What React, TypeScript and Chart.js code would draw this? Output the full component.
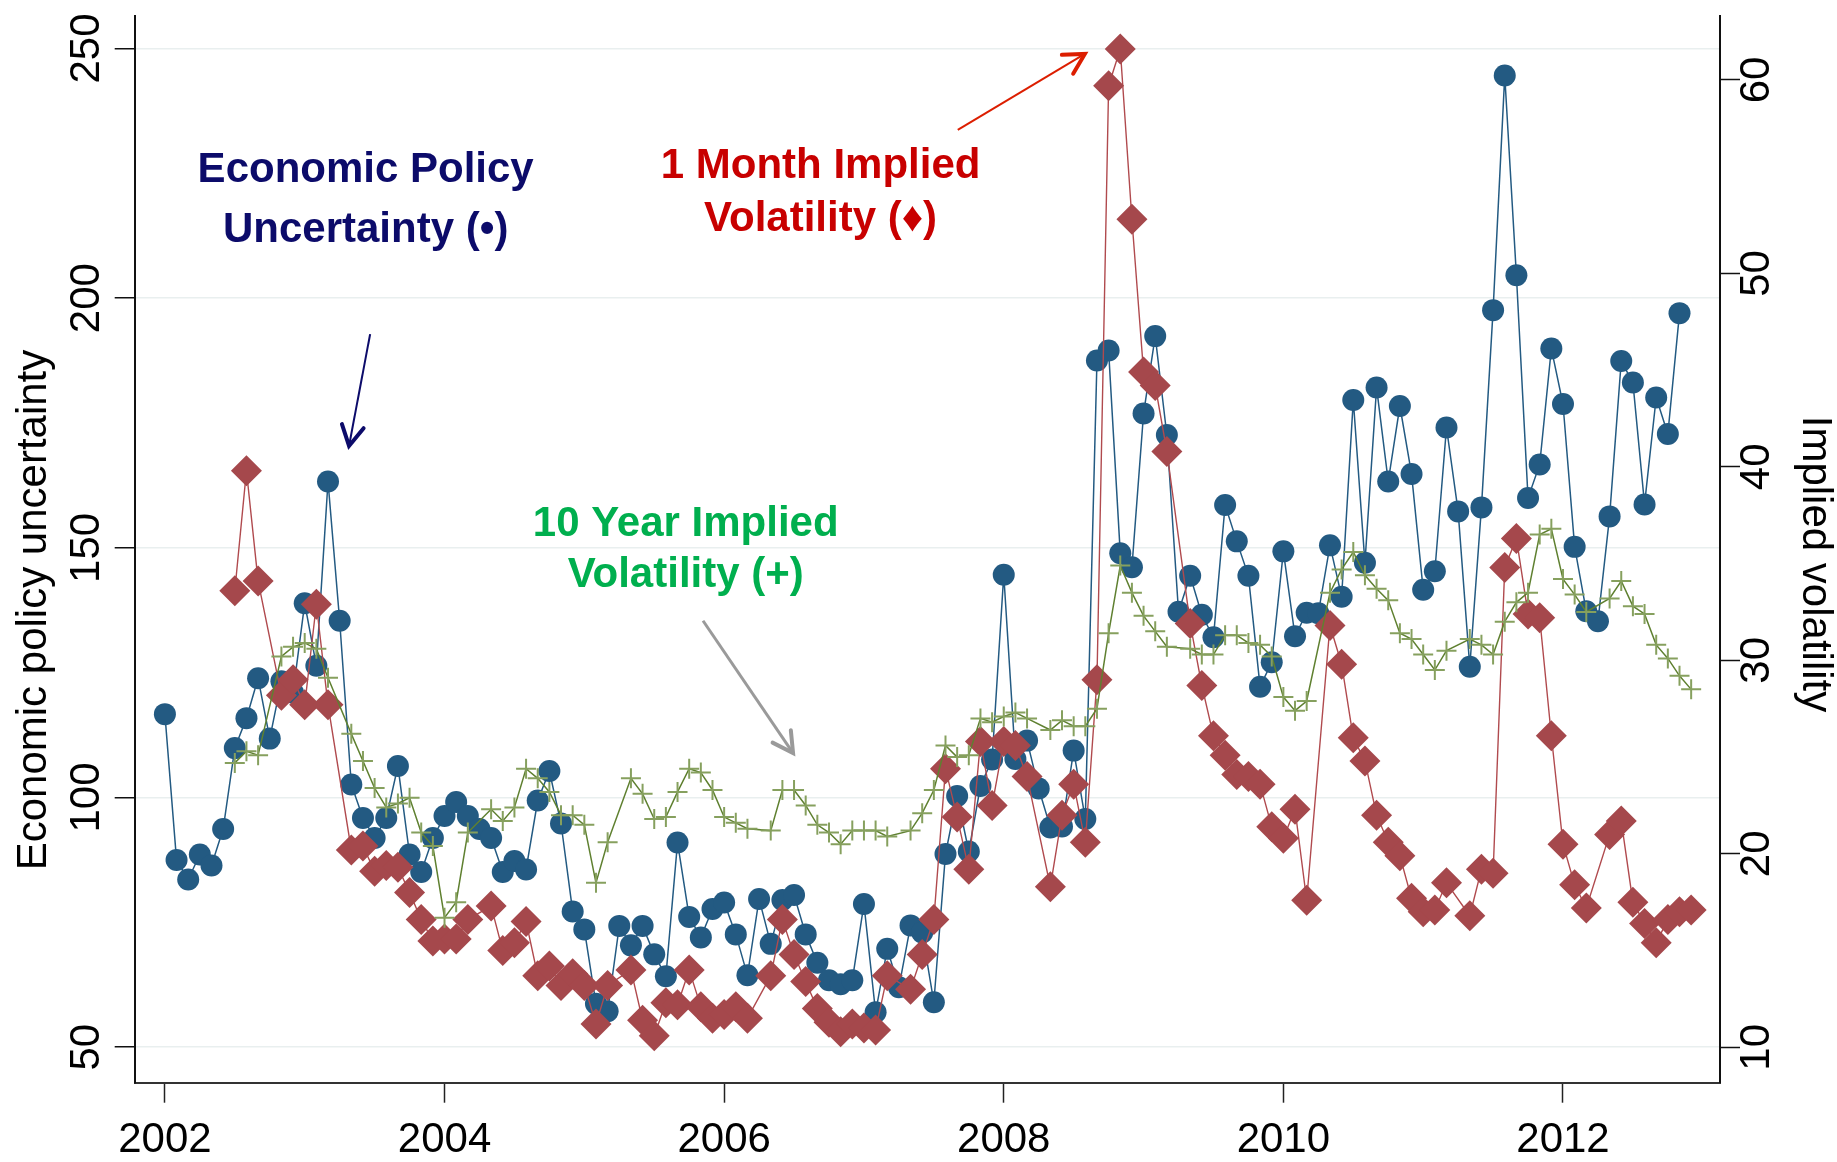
import React, { useEffect, useRef } from "react";
import { Chart, registerables } from "chart.js";

Chart.register(...registerables);

const W = 1837;
const H = 1162;
const FONT = '"Liberation Sans", Arial, Helvetica, sans-serif';

// ---- tick labels ----
const yearTicks = [2002, 2004, 2006, 2008, 2010, 2012];
const epuTicks = [50, 100, 150, 200, 250];
const volTicks = [10, 20, 30, 40, 50, 60];

// ---- Economic policy uncertainty index, monthly from Jan 2002 ----
const epuStartYear = 2002;
const epuStartMonth = 0;
const epu = [
  // 2002
  116.7, 87.5, 83.6, 88.6, 86.4, 93.7, 109.9, 115.9, 123.9, 111.8, 123.3, 121.0,
  // 2003
  138.9, 126.4, 163.3, 135.4, 102.6, 95.9, 91.9, 95.9, 106.3, 88.6, 85.1, 91.9,
  // 2004
  96.3, 99.1, 96.3, 93.7, 91.9, 85.1, 87.3, 85.6, 99.4, 105.3, 94.8, 77.2,
  // 2005
  73.6, 58.7, 57.2, 74.3, 70.4, 74.3, 68.6, 64.2, 91.0, 76.1, 72.0, 77.7,
  // 2006
  79.0, 72.6, 64.4, 79.7, 70.7, 79.5, 80.5, 72.6, 66.9, 63.4, 62.6, 63.4,
  // 2007
  78.7, 57.0, 69.7, 62.0, 74.4, 73.0, 59.0, 88.7, 100.3, 89.2, 102.3, 107.6,
  // 2008
  144.6, 107.7, 111.4, 101.8, 94.0, 94.2, 109.4, 95.7, 187.5, 189.5, 148.9, 146.1,
  // 2009
  176.9, 192.4, 172.6, 137.2, 144.4, 136.6, 132.1, 158.6, 151.3, 144.4, 122.2, 127.1,
  // 2010
  149.3, 132.3, 137.0, 136.9, 150.5, 140.2, 179.6, 147.0, 182.1, 163.3, 178.4, 164.8,
  // 2011
  141.6, 145.3, 174.1, 157.3, 126.2, 158.1, 197.6, 244.6, 204.6, 160.0, 166.7, 189.9,
  // 2012 (Jan-Nov)
  178.8, 150.2, 137.3, 135.3, 156.3, 187.4, 183.1, 158.7, 180.1, 172.8, 197.0,
];

// ---- implied volatility series, monthly from Jul 2002 (null = no observation) ----
const volStartYear = 2002;
const volStartMonth = 6;
const vol1m = [
  // 2002 Jul-Dec
  33.6, 39.8, 34.1, null, 28.2, 29.0,
  // 2003
  27.7, 32.9, 27.7, null, 20.2, 20.4, 19.1, 19.4, 19.3, 18.0, 16.6, 15.5,
  // 2004
  15.6, 15.6, 16.6, null, 17.3, 15.0, 15.4, 16.5, 13.7, 14.2, 13.2, 13.8,
  // 2005
  13.2, 11.2, 13.2, null, 14.0, 11.4, 10.6, 12.3, 12.2, 14.0, 12.1, 11.5,
  // 2006
  11.7, 12.1, 11.5, null, 13.7, 16.6, 14.8, 13.4, 12.0, 11.3, 10.8, 11.2,
  // 2007
  11.0, 10.9, 13.7, null, 13.0, 14.8, 16.6, 24.4, 21.9, 19.2, 25.8, 22.5,
  // 2008
  25.8, 25.6, 24.0, null, 18.3, 22.0, 23.6, 20.6, 29.0, 59.7, 61.6, 52.8,
  // 2009
  44.9, 44.2, 40.8, null, 31.9, 28.7, 26.1, 25.1, 24.1, 24.0, 23.6, 21.4,
  // 2010
  20.8, 22.3, 17.6, null, 31.8, 29.8, 26.0, 24.8, 22.0, 20.6, 19.9, 17.7,
  // 2011
  17.0, 17.1, 18.5, null, 16.8, 19.2, 19.0, 34.8, 36.3, 32.4, 32.2, 26.1,
  // 2012
  20.5, 18.4, 17.2, null, 21.0, 21.7, 17.5, 16.4, 15.4, 16.6, 17.0, 17.1,
];
const vol10y = [
  // 2002 Jul-Dec
  24.7, 25.3, 25.1, null, 30.2, 30.7,
  // 2003
  30.9, 30.6, 29.1, null, 26.2, 24.8, 23.4, 22.4, 22.6, 22.9, 21.1, 20.4,
  // 2004
  16.7, 17.5, 21.1, null, 22.3, 21.7, 22.4, 24.4, 23.9, 23.2, 22.0, 22.0,
  // 2005
  21.5, 18.5, 20.6, null, 23.9, 23.1, 21.8, 21.9, 23.2, 24.4, 24.2, 23.3,
  // 2006
  21.9, 21.6, 21.3, null, 21.2, 23.3, 23.3, 22.5, 21.5, 21.1, 20.5, 21.2,
  // 2007
  21.2, 21.2, 20.9, null, 21.2, 22.1, 23.3, 25.6, 25.0, 25.1, 27.0, 26.8,
  // 2008
  27.1, 27.3, 27.0, null, 26.4, 26.9, 26.6, 26.6, 27.5, 31.4, 34.9, 33.5,
  // 2009
  32.3, 31.5, 30.7, null, 30.6, 30.3, 30.3, 31.3, 31.3, 30.9, 30.8, 30.2,
  // 2010
  28.1, 27.4, 27.9, null, 33.5, 34.7, 35.6, 34.4, 33.7, 33.1, 31.4, 31.1,
  // 2011
  30.3, 29.5, 30.5, null, 31.1, 30.8, 30.3, 32.0, 33.0, 33.5, 36.5, 36.8,
  // 2012
  34.2, 33.4, 32.5, null, 33.2, 34.1, 32.8, 32.4, 30.8, 30.1, 29.2, 28.5,
];

// ---- text ----
const leftTitle = "Economic policy uncertainty";
const rightTitle = "Implied volatility";
const epuLabel = ["Economic Policy", "Uncertainty (\u2022)"];
const vol1mLabel = ["1 Month Implied", "Volatility (\u2666)"];
const vol10yLabel = ["10 Year Implied", "Volatility (+)"];

// annotation placement (data coordinates: year, EPU scale)
const notes = [
  { lines: epuLabel, color: "#0c0b6a", x: 2003.436, y: [223.2, 211.3] },
  { lines: vol1mLabel, color: "#c80000", x: 2006.69, y: [224.0, 213.5] },
  { lines: vol10yLabel, color: "#00af4e", x: 2005.725, y: [152.3, 142.1] },
];
const arrows = [
  { from: [2003.468, 192.8], to: [2003.317, 170.4], color: "#0c0b6a", width: 2, headWidth: 4 },
  { from: [2007.671, 233.7], to: [2008.58, 248.9], color: "#dc1e00", width: 2, headWidth: 4 },
  { from: [2005.849, 135.4], to: [2006.493, 108.9], color: "#9a9a9a", width: 3, headWidth: 4 },
];

function toPoints(startYear: number, startMonth: number, vals: (number | null)[]) {
  return vals.map((v, i) => ({ x: startYear + (startMonth + i) / 12, y: v }));
}

const annotationPlugin = {
  id: "epuAnnotations",
  afterDraw(chart: any) {
    const { ctx, scales } = chart;
    const px = (v: number) => scales.x.getPixelForValue(v);
    const py = (v: number) => scales.y.getPixelForValue(v);
    ctx.save();
    // axis titles
    ctx.fillStyle = "#000";
    ctx.font = `42px ${FONT}`;
    ctx.textAlign = "center";
    ctx.textBaseline = "alphabetic";
    ctx.save();
    ctx.translate(46, 610);
    ctx.rotate(-Math.PI / 2);
    ctx.fillText(leftTitle, 0, 0);
    ctx.restore();
    ctx.save();
    ctx.translate(1803, 564);
    ctx.rotate(Math.PI / 2);
    ctx.fillText(rightTitle, 0, 0);
    ctx.restore();

    // labels
    ctx.font = `bold 42px ${FONT}`;
    for (const n of notes) {
      ctx.fillStyle = n.color;
      n.lines.forEach((t, i) => ctx.fillText(t, px(n.x), py(n.y[i])));
    }
    // arrows
    for (const a of arrows) {
      const x1 = px(a.from[0]);
      const y1 = py(a.from[1]);
      const x2 = px(a.to[0]);
      const y2 = py(a.to[1]);
      const ang = Math.atan2(y2 - y1, x2 - x1);
      ctx.strokeStyle = a.color;
      ctx.lineCap = "butt";
      ctx.lineWidth = a.width;
      ctx.beginPath();
      ctx.moveTo(x1, y1);
      ctx.lineTo(x2, y2);
      ctx.stroke();
      const hl = 23;
      const spread = 0.5;
      ctx.lineWidth = a.headWidth;
      ctx.lineCap = "round";
      ctx.lineJoin = "miter";
      ctx.beginPath();
      ctx.moveTo(x2 - hl * Math.cos(ang - spread), y2 - hl * Math.sin(ang - spread));
      ctx.lineTo(x2, y2);
      ctx.lineTo(x2 - hl * Math.cos(ang + spread), y2 - hl * Math.sin(ang + spread));
      ctx.stroke();
    }
    ctx.restore();
  },
};

function zeroPad(s: any) {
  s.paddingLeft = 0;
  s.paddingRight = 0;
  s.paddingTop = 0;
  s.paddingBottom = 0;
}

export default function App() {
  const ref = useRef<HTMLCanvasElement | null>(null);

  useEffect(() => {
    if (!ref.current) return;
    const tickFont = { family: FONT, size: 42 };
    const chart = new Chart(ref.current, {
      type: "line",
      data: {
        datasets: [
          {
            label: "10 Year Implied Volatility",
            data: toPoints(volStartYear, volStartMonth, vol10y),
            yAxisID: "y1",
            order: 1,
            spanGaps: true,
            borderColor: "#5f8030",
            borderWidth: 1.5,
            pointStyle: "cross",
            pointRadius: 10,
            pointBorderColor: "#86a05e",
            pointBorderWidth: 2,
            pointBackgroundColor: "#86a05e",
            tension: 0,
          },
          {
            label: "1 Month Implied Volatility",
            data: toPoints(volStartYear, volStartMonth, vol1m),
            yAxisID: "y1",
            order: 2,
            spanGaps: true,
            borderColor: "#b04a4e",
            borderWidth: 1.4,
            pointStyle: "rectRot",
            pointRadius: 15.5,
            pointBorderWidth: 0,
            pointBackgroundColor: "#a5484c",
            pointBorderColor: "#a5484c",
            tension: 0,
          },
          {
            label: "Economic Policy Uncertainty",
            data: toPoints(epuStartYear, epuStartMonth, epu),
            yAxisID: "y",
            order: 3,
            borderColor: "#235a82",
            borderWidth: 1.5,
            pointStyle: "circle",
            pointRadius: 11,
            pointBorderWidth: 0,
            pointBackgroundColor: "#235a82",
            pointBorderColor: "#235a82",
            tension: 0,
          },
        ],
      },
      options: {
        animation: false,
        responsive: false,
        devicePixelRatio: 1,
        layout: { padding: { top: 11.7, left: 0, right: 0, bottom: 0 } },
        plugins: {
          legend: { display: false },
          tooltip: { enabled: false },
          title: { display: false },
        },
        scales: {
          x: {
            type: "linear",
            min: 2001.784,
            max: 2013.123,
            afterBuildTicks: (s: any) => {
              s.ticks = yearTicks.map((v) => ({ value: v }));
            },
            afterFit: (s: any) => {
              s.height = H - 1082.7;
              zeroPad(s);
            },
            ticks: {
              callback: (v: any) => String(v),
              font: tickFont,
              color: "#000",
              padding: 13,
              maxRotation: 0,
              minRotation: 0,
              autoSkip: false,
            },
            grid: {
              drawOnChartArea: false,
              drawTicks: true,
              tickLength: 20,
              tickColor: "#222",
              tickWidth: 1.5,
            },
            border: { display: true, color: "#333", width: 2 },
          },
          y: {
            type: "linear",
            position: "left",
            min: 42.9,
            max: 256.6,
            afterBuildTicks: (s: any) => {
              s.ticks = epuTicks.map((v) => ({ value: v }));
            },
            afterFit: (s: any) => {
              s.width = 134.7;
              zeroPad(s);
            },
            ticks: {
              callback: (v: any) => String(v),
              font: tickFont,
              color: "#000",
              padding: -8,
              minRotation: 90,
              maxRotation: 90,
              crossAlign: "center",
              autoSkip: false,
            },
            grid: {
              drawOnChartArea: true,
              color: "#e9efef",
              lineWidth: 1.5,
              drawTicks: true,
              tickLength: 20,
              tickColor: "#111",
              tickWidth: 1.5,
            },
            border: { display: true, color: "#111", width: 2 },
          },
          y1: {
            type: "linear",
            position: "right",
            min: 8.17,
            max: 63.33,
            afterBuildTicks: (s: any) => {
              s.ticks = volTicks.map((v) => ({ value: v }));
            },
            afterFit: (s: any) => {
              s.width = W - 1720;
              zeroPad(s);
            },
            ticks: {
              callback: (v: any) => String(v),
              font: tickFont,
              color: "#000",
              padding: -6,
              minRotation: 90,
              maxRotation: 90,
              crossAlign: "center",
              autoSkip: false,
            },
            grid: {
              drawOnChartArea: false,
              drawTicks: true,
              tickLength: 20,
              tickColor: "#111",
              tickWidth: 1.5,
            },
            border: { display: true, color: "#111", width: 2 },
          },
        },
      },
      plugins: [annotationPlugin],
    } as any);
    return () => chart.destroy();
  }, []);

  return (
    <div style={{ position: "absolute", left: 0, top: 0, width: W, height: H, background: "#fff" }}>
      <canvas ref={ref} width={W} height={H} style={{ width: W, height: H, display: "block" }} />
    </div>
  );
}
